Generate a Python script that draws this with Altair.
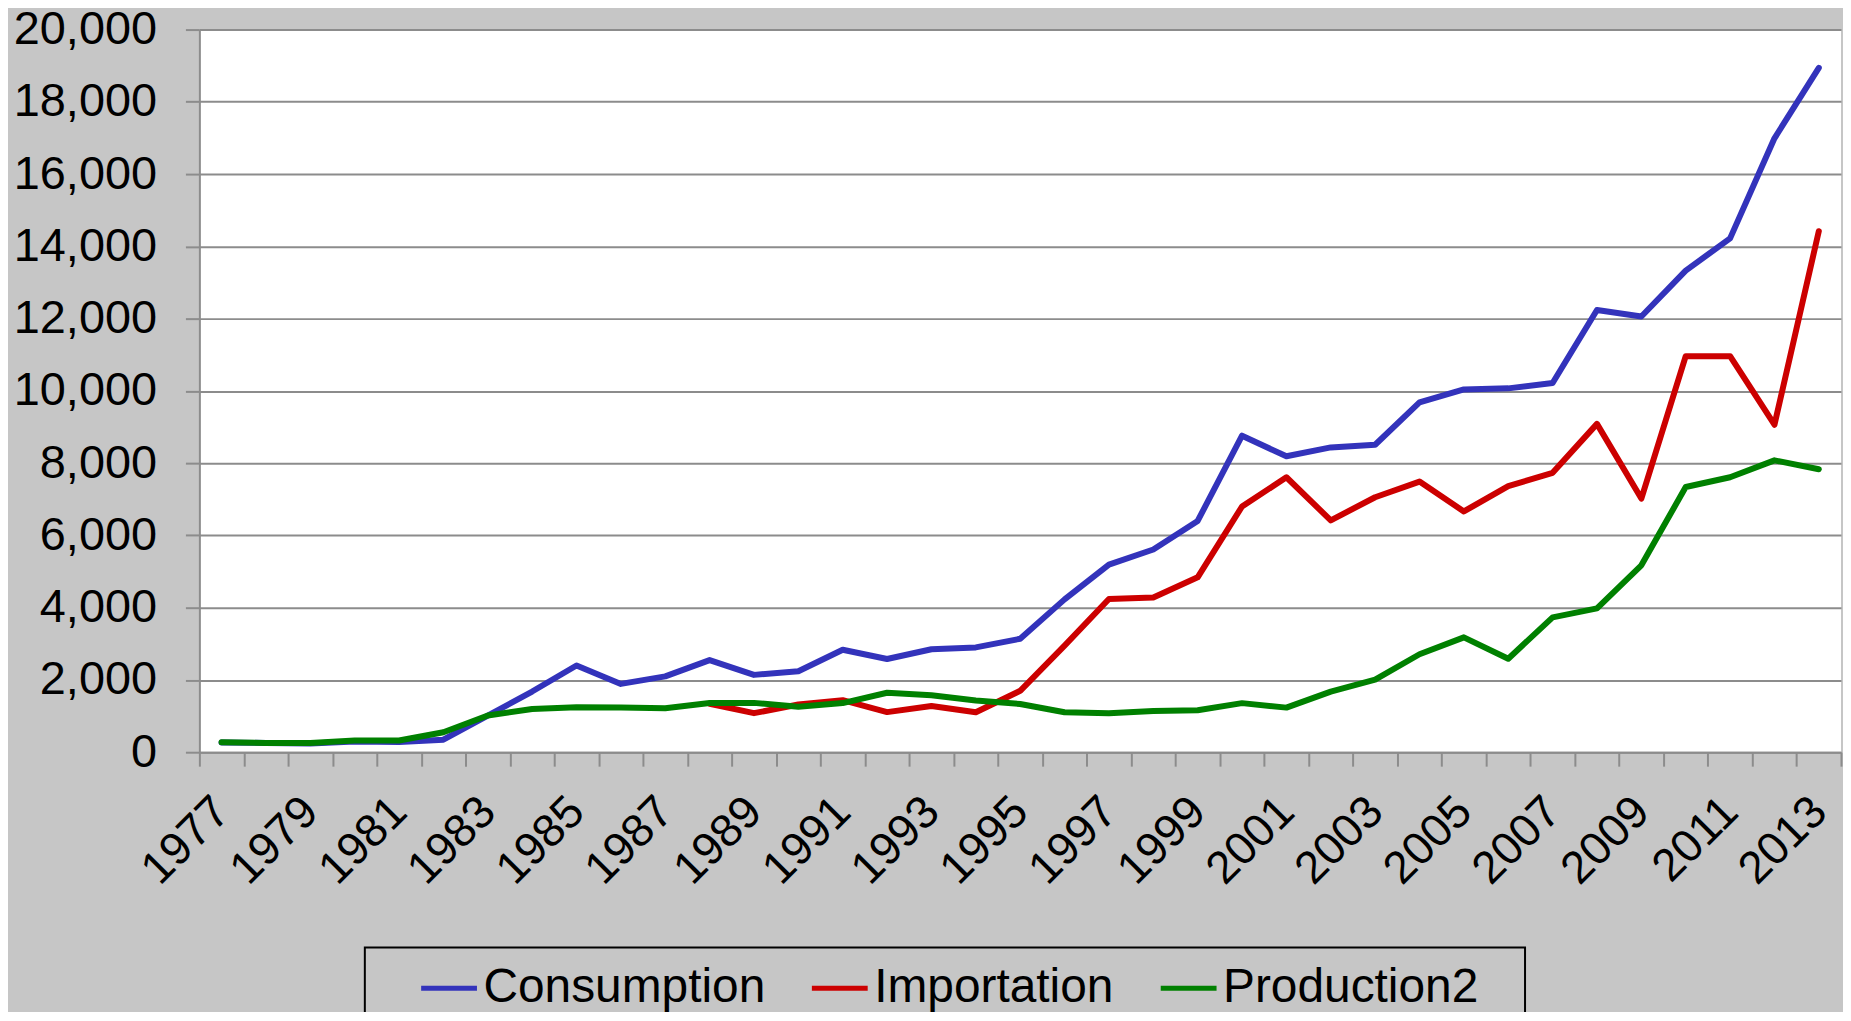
import altair as alt
import pandas as pd

years = list(range(1977, 2014))

consumption = [270, 255, 240, 295, 280, 345, 1010, 1680, 2400, 1890,
               2100, 2550, 2140, 2240, 2835, 2580, 2850, 2900, 3140, 4230,
               5190, 5610, 6400, 8760, 8190, 8435, 8510, 9680, 10040, 10070,
               10220, 12240, 12060, 13330, 14220, 16990, 18940]

importation = [None, None, None, None, None, None, None, None, None, None,
               None, 1340, 1080, 1320, 1440, 1110, 1280, 1105, 1700, 2950,
               4240, 4280, 4840, 6800, 7610, 6416, 7057, 7490, 6663, 7364,
               7733, 9087, 7020, 10960, 10960, 9063, 14420]

production2 = [276, 258, 255, 323, 323, 553, 1014, 1198, 1244, 1240,
               1215, 1360, 1365, 1260, 1360, 1645, 1575, 1430, 1333, 1105,
               1080, 1140, 1160, 1358, 1234, 1678, 2010, 2711, 3179, 2588,
               3733, 3979, 5173, 7339, 7610, 8078, 7832]

series_names = ["Consumption", "Importation", "Production2"]
series_colors = ["#3333BB", "#CC0000", "#008000"]
y_ticks = list(range(0, 20001, 2000))

rows = []
for name, vals in zip(series_names, [consumption, importation, production2]):
    for yr, v in zip(years, vals):
        if v is not None:
            rows.append({"year": yr, "series": name, "value": v})
df = pd.DataFrame(rows)

FONT = "Liberation Sans"
GRAY = "#8c8c8c"

chart = alt.Chart(df).mark_line(strokeWidth=6, strokeJoin="round", strokeCap="round").encode(
    x=alt.X(
        "year:O",
        bandPosition=0.5,
        scale=alt.Scale(type="band", paddingInner=0, paddingOuter=0),
        axis=alt.Axis(
            title=None,
            labelAngle=315,
            labelAlign="right",
            labelBaseline="middle",
            labelPadding=38,
            labelFont=FONT,
            labelFontSize=46,
            labelColor="black",
            labelOverlap=False,
            labelExpr="(toNumber(datum.value) - 1977) % 2 == 0 ? datum.label : ''",
            tickBand="extent",
            tickSize=14,
            tickWidth=2,
            tickColor=GRAY,
            domainColor=GRAY,
            domainWidth=2,
            grid=False,
        ),
    ),
    y=alt.Y(
        "value:Q",
        scale=alt.Scale(domain=[0, 20000], nice=False),
        axis=alt.Axis(
            title=None,
            values=y_ticks,
            format=",d",
            labelFont=FONT,
            labelFontSize=47,
            labelColor="black",
            labelPadding=29,
            labelLimit=400,
            tickSize=14,
            tickWidth=2,
            tickColor=GRAY,
            domainColor=GRAY,
            domainWidth=2,
            gridColor=GRAY,
            gridWidth=2,
        ),
    ),
    color=alt.Color(
        "series:N",
        scale=alt.Scale(domain=series_names, range=series_colors),
        legend=alt.Legend(
            orient="none",
            legendX=166,
            legendY=921,
            direction="horizontal",
            title=None,
            labelFont=FONT,
            labelFontSize=48,
            labelColor="black",
            labelLimit=0,
            labelOffset=4,
            symbolType="stroke",
            symbolSize=3136,
            symbolStrokeWidth=5,
            symbolOffset=44,
            columnPadding=0,
            padding=10,
            strokeColor="black",
            labelExpr="datum.value == 'Production2' ? datum.label + '\u2002\u2005\u200b' : datum.label",
        ),
    ),
    order=alt.Order("series:N"),
).properties(
    width=1647,
    height=725,
    autosize=alt.AutoSizeParams(type="none"),
    padding={"left": 192, "top": 20, "right": 2, "bottom": 259},
    background="#c6c6c6",
).configure_view(
    fill="white",
    strokeWidth=0,
).configure_legend(
    strokeWidth=2,
)

chart.save("out.html", embed_options={"renderer": "svg", "actions": False})
